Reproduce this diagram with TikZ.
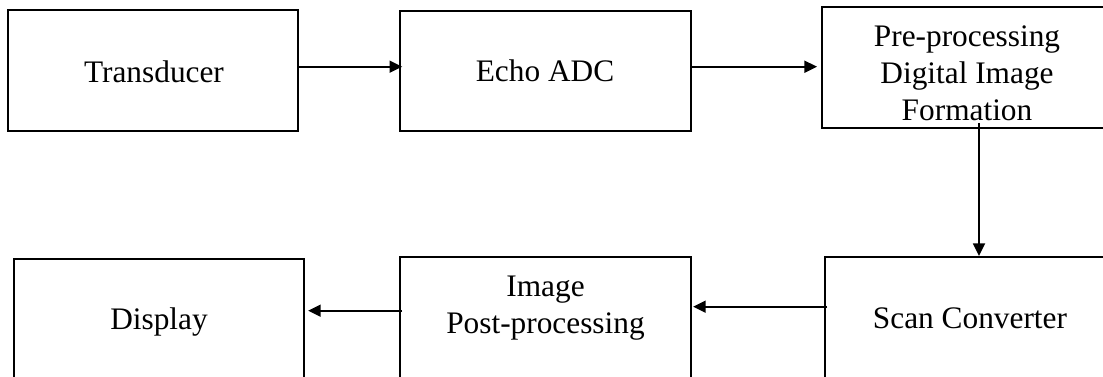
\documentclass[tikz,border=0pt]{standalone}
\usepackage{fontspec}
\setmainfont{Liberation Serif}
\usetikzlibrary{arrows.meta}

\tikzset{
  blockbox/.style={draw=black, line width=1.5pt, rectangle, inner sep=0pt},
  blocktext/.style={font=\fontsize{23.5pt}{27.9pt}\selectfont, align=center, anchor=base, inner sep=0pt},
  flow/.style={draw=black, line width=1.4pt, -{Triangle[length=9.5pt,width=9pt]}}
}

\begin{document}
\begin{tikzpicture}[x=0.75pt, y=-0.75pt]
  % page frame; everything outside it is cut away
  \path[use as bounding box, clip] (0,0) rectangle (1103,377);
  \fill[white] (0,0) rectangle (1103,377);

  % top row of blocks
  \node[blockbox, minimum width=217.5pt, minimum height=90.3pt] (trans) at (153,70.5) {};
  \node[blockbox, minimum width=218.25pt, minimum height=90pt] (echo) at (545.5,70.7) {};
  \node[blockbox, minimum width=217.5pt, minimum height=90.75pt] (pre) at (967,67.5) {};

  % bottom row of blocks (run off the lower edge)
  \node[blockbox, minimum width=217.5pt, minimum height=106.5pt] (disp) at (159,330) {};
  \node[blockbox, minimum width=218.25pt, minimum height=106.5pt] (post) at (545.5,328) {};
  \node[blockbox, minimum width=217.5pt, minimum height=106.5pt] (scan) at (970,328) {};

  % block labels (multi-line labels sit on their last line)
  \node[blocktext] (trans-t) at (154,82.3) {Transducer};
  \node[blocktext] (echo-t) at (545,81.7) {Echo ADC};
  \node[blocktext] (pre-t) at (967,121) {Pre-processing\\Digital Image\\Formation};
  \node[blocktext] (disp-t) at (159,330) {Display};
  \node[blocktext] (post-t) at (545.5,333.3) {Image\\Post-processing};
  \node[blocktext] (scan-t) at (970,328.3) {Scan Converter};

  % connector levels
  \coordinate (row1) at (0,66.7);
  \coordinate (row2a) at (0,306.7);
  \coordinate (row2b) at (0,310.7);
  \coordinate (down) at (979,0);

  % signal chain
  \draw[flow] (trans.east |- row1) -- ([xshift=2.4pt]echo.west |- row1);
  \draw[flow] (echo.east |- row1) -- ([xshift=-3pt]pre.west |- row1);
  \draw[flow] ([yshift=4.5pt]down |- pre.south) -- (down |- scan.north);
  \draw[flow] ([xshift=2.3pt]scan.west |- row2a) -- ([xshift=0.8pt]post.east |- row2a);
  \draw[flow] ([xshift=2.3pt]post.west |- row2b) -- ([xshift=2.3pt]disp.east |- row2b);
\end{tikzpicture}
\end{document}
